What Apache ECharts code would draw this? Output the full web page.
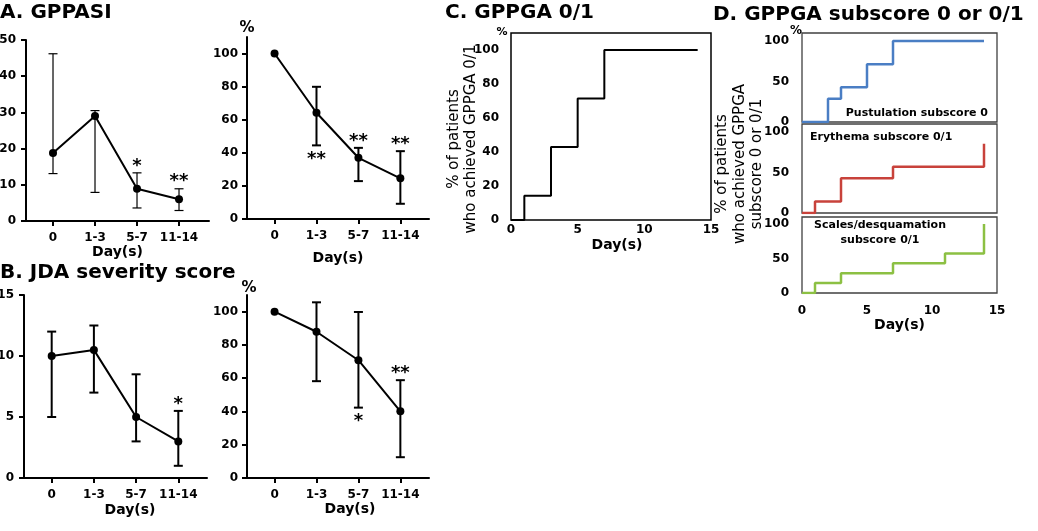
<!DOCTYPE html>
<html><head><meta charset="utf-8">
<script src="https://cdn.jsdelivr.net/npm/echarts@6/dist/echarts.min.js"></script>
<style>html,body{margin:0;padding:0;background:#fff}#c{width:1038px;height:531px}</style>
</head><body><div id="c"></div>
<script>
// ---------- data ----------
const dayGroups = ['0', '1-3', '5-7', '11-14'];

// A. GPPASI score (median, range)
const gppasiMean = [18.8, 29.0, 8.9, 6.0];
const gppasiLow  = [13.1, 7.9, 3.6, 2.9];
const gppasiHigh = [46.2, 30.5, 13.3, 8.9];
const gppasiSig  = ['', '', '*', '**'];
const gppasiSide = ['', '', 'above', 'above'];

// A. GPPASI % of baseline
const gppasiPct     = [100, 64.2, 37.0, 24.6];
const gppasiPctLow  = [null, 44.5, 22.9, 9.2];
const gppasiPctHigh = [null, 79.9, 43.0, 41.0];
const gppasiPctSig  = ['', '**', '**', '**'];
const gppasiPctSide = ['', 'below', 'above', 'above'];

// B. JDA severity score
const jdaMean = [10.0, 10.5, 5.0, 3.0];
const jdaLow  = [5.0, 7.0, 3.0, 1.0];
const jdaHigh = [12.0, 12.5, 8.5, 5.5];
const jdaSig  = ['', '', '', '*'];
const jdaSide = ['', '', '', 'above'];

// B. JDA % of baseline
const jdaPct     = [100, 87.9, 70.8, 40.1];
const jdaPctLow  = [null, 58.2, 42.3, 12.5];
const jdaPctHigh = [null, 105.6, 99.8, 58.8];
const jdaPctSig  = ['', '', '*', '**'];
const jdaPctSide = ['', '', 'below', 'above'];

// C. GPPGA 0/1 (cumulative %)
const gppgaDays = [0, 1, 3, 5, 7, 14];
const gppgaPct  = [0, 14.3, 42.9, 71.4, 100, 100];

// D. subscores
const pustDays  = [0, 2, 3, 5, 7, 14];
const pustPct   = [0, 28.6, 42.9, 71.4, 100, 100];
const eryDays   = [0, 1, 3, 7, 14];
const eryPct    = [0, 14.3, 42.9, 57.1, 85.7];
const scaleDays = [0, 1, 3, 7, 11, 14];
const scalePct  = [0, 14.3, 28.6, 42.9, 57.1, 100];

const pctTicks = [0, 20, 40, 60, 80, 100];
const subTicks = [0, 50, 100];

// ---------- helpers ----------
const FF = '"DejaVu Sans", Verdana, sans-serif';
const lbl = (extra) => Object.assign({color: '#000', fontFamily: FF, fontWeight: 'bold', fontSize: 12}, extra || {});
const catIdx = dayGroups.map((_, i) => i);

function catXAxis(gi, min, max, gap, pad) {
  return {
    type: 'value', gridIndex: gi, min: min, max: max,
    axisLine: {onZero: false, lineStyle: {color: '#000', width: 2}},
    axisTick: {customValues: catIdx, length: 5, lineStyle: {color: '#000', width: 2}},
    axisLabel: lbl({customValues: catIdx, formatter: v => dayGroups[Math.round(v)], margin: 11}),
    splitLine: {show: false},
    name: 'Day(s)', nameLocation: 'middle', nameGap: gap,
    nameTextStyle: {color: '#000', fontFamily: FF, fontWeight: 'bold', fontSize: 14, padding: pad || 0}
  };
}
function valYAxis(gi, max, interval, ticks) {
  const ax = {
    type: 'value', gridIndex: gi, min: 0, max: max,
    axisLine: {show: true, onZero: false, lineStyle: {color: '#000', width: 2}},
    axisTick: {show: true, length: 5, lineStyle: {color: '#000', width: 2}},
    axisLabel: lbl({margin: 10}),
    splitLine: {show: false}
  };
  if (ticks) { ax.axisTick.customValues = ticks; ax.axisLabel.customValues = ticks; }
  else ax.interval = interval;
  return ax;
}
function errRender(lw, cap) {
  return function (params, api) {
    const x = api.value(0);
    const a = api.coord([x, api.value(1)]);
    const b = api.coord([x, api.value(2)]);
    const st = {stroke: '#000', lineWidth: lw};
    return {type: 'group', children: [
      {type: 'line', shape: {x1: a[0], y1: a[1], x2: b[0], y2: b[1]}, style: st},
      {type: 'line', shape: {x1: a[0] - cap, y1: a[1], x2: a[0] + cap, y2: a[1]}, style: st},
      {type: 'line', shape: {x1: b[0] - cap, y1: b[1], x2: b[0] + cap, y2: b[1]}, style: st}
    ]};
  };
}
function panelSeries(gi, mean, low, high, sig, side, lw) {
  const sigItems = catIdx.filter(i => sig[i]).map(i => ({i: i, text: sig[i], side: side[i], v: side[i] === 'above' ? high[i] : low[i]}));
  return [
    {type: 'custom', xAxisIndex: gi, yAxisIndex: gi, silent: true, z: 2,
     data: catIdx.filter(i => low[i] != null).map(i => [i, low[i], high[i]]),
     renderItem: errRender(lw, 4.5)},
    {type: 'line', xAxisIndex: gi, yAxisIndex: gi, z: 3, silent: true,
     data: catIdx.map(i => [i, mean[i]]), symbol: 'circle', symbolSize: 8,
     lineStyle: {color: '#000', width: 2}, itemStyle: {color: '#000'}},
    {type: 'custom', xAxisIndex: gi, yAxisIndex: gi, silent: true, z: 4,
     data: sigItems.map(s => [s.i, s.v]),
     renderItem: function (p, api) {
       const s = sigItems[p.dataIndex];
       const pt = api.coord([api.value(0), api.value(1)]);
       return {type: 'text', x: pt[0], y: pt[1] + (s.side === 'above' ? -7 : 14),
         style: {text: s.text, fill: '#000', fontFamily: FF, fontWeight: 'bold', fontSize: 18, align: 'center', verticalAlign: 'middle'}};
     }}
  ];
}
function stepSeries(gi, days, pct, color, w) {
  return {type: 'line', xAxisIndex: gi, yAxisIndex: gi, step: 'end', symbol: 'none', silent: true,
    data: days.map((d, i) => [d, pct[i]]), lineStyle: {color: color, width: w}};
}
function boxXAxis(gi, show) {
  return {type: 'value', gridIndex: gi, min: 0, max: 15, interval: 5,
    axisLine: {show: false, onZero: false}, axisTick: {show: false}, splitLine: {show: false},
    axisLabel: lbl({show: show, margin: 12})};
}
function boxYAxis(gi, ticks, margin) {
  return {type: 'value', gridIndex: gi, min: 0, max: 110,
    axisLine: {show: false, onZero: false}, axisTick: {show: false, customValues: ticks}, splitLine: {show: false},
    axisLabel: lbl({customValues: ticks, margin: margin})};
}

const gridBase = {outerBoundsMode: 'none', containLabel: false};
const g = (o) => Object.assign({}, gridBase, o);

const xA1 = catXAxis(0, -0.643, 3.714, 24);
const xA2 = catXAxis(1, -0.657, 3.683, 32);
const xB1 = catXAxis(2, -0.656, 3.68, 25, [0, 0, 0, 29]);
const xB2 = catXAxis(3, -0.657, 3.683, 22, [0, 0, 0, 24]);
const xC = boxXAxis(4, true);
xC.axisLabel.margin = 4;
Object.assign(xC, {name: 'Day(s)', nameLocation: 'middle', nameGap: 18,
  nameTextStyle: {color: '#000', fontFamily: FF, fontWeight: 'bold', fontSize: 14, padding: [0, 0, 0, 12]}});
const xD3 = boxXAxis(7, true);
Object.assign(xD3, {name: 'Day(s)', nameLocation: 'middle', nameGap: 24,
  nameTextStyle: {color: '#000', fontFamily: FF, fontWeight: 'bold', fontSize: 14}});

const yA1 = valYAxis(0, 50, 10);
const yA2 = valYAxis(1, 110, null, pctTicks); yA2.axisLabel.margin = 9;
const yB1 = valYAxis(2, 15, 5);
const yB2 = valYAxis(3, 110, null, pctTicks); yB2.axisLabel.margin = 9;

const titleStyle = {color: '#000', fontFamily: FF, fontWeight: 'bold', fontSize: 20};
const txt = (x, y, text, size, extra) => ({type: 'text', x: x, y: y, silent: true,
  style: Object.assign({text: text, fill: '#000', fontFamily: FF, fontWeight: 'bold', fontSize: size, align: 'center', verticalAlign: 'middle'}, extra || {})});

const option = {
  backgroundColor: '#fff',
  animation: false,
  title: [
    {text: 'A. GPPASI', left: 0, top: 3, padding: 0, textStyle: titleStyle},
    {text: 'B. JDA severity score', left: 0, top: 263, padding: 0, textStyle: titleStyle},
    {text: 'C. GPPGA 0/1', left: 445, top: 3, padding: 0, textStyle: titleStyle},
    {text: 'D. GPPGA subscore 0 or 0/1', left: 713, top: 5, padding: 0, textStyle: titleStyle}
  ],
  grid: [
    g({left: 26, top: 40, width: 183, height: 181}),
    g({left: 247, top: 37, width: 182, height: 182}),
    g({left: 24, top: 295, width: 183, height: 183}),
    g({left: 247, top: 295, width: 182, height: 183}),
    g({left: 511, top: 33, width: 200, height: 187, show: true, borderColor: '#000', borderWidth: 1.5, backgroundColor: 'transparent'}),
    g({left: 802, top: 33, width: 195, height: 89, show: true, borderColor: '#404040', borderWidth: 1.3, backgroundColor: 'transparent'}),
    g({left: 802, top: 124, width: 195, height: 89, show: true, borderColor: '#404040', borderWidth: 1.3, backgroundColor: 'transparent'}),
    g({left: 802, top: 217, width: 195, height: 76, show: true, borderColor: '#404040', borderWidth: 1.3, backgroundColor: 'transparent'})
  ],
  xAxis: [xA1, xA2, xB1, xB2, xC, boxXAxis(5, false), boxXAxis(6, false), xD3],
  yAxis: [yA1, yA2, yB1, yB2,
    boxYAxis(4, pctTicks, 12),
    boxYAxis(5, subTicks, 13), boxYAxis(6, subTicks, 13), boxYAxis(7, subTicks, 13)],
  series: [].concat(
    panelSeries(0, gppasiMean, gppasiLow, gppasiHigh, gppasiSig, gppasiSide, 1.2),
    panelSeries(1, gppasiPct, gppasiPctLow, gppasiPctHigh, gppasiPctSig, gppasiPctSide, 2),
    panelSeries(2, jdaMean, jdaLow, jdaHigh, jdaSig, jdaSide, 2),
    panelSeries(3, jdaPct, jdaPctLow, jdaPctHigh, jdaPctSig, jdaPctSide, 2),
    [stepSeries(4, gppgaDays, gppgaPct, '#000', 2),
     stepSeries(5, pustDays, pustPct, '#4a7ec4', 2.5),
     stepSeries(6, eryDays, eryPct, '#c8423b', 2.5),
     stepSeries(7, scaleDays, scalePct, '#8cc043', 2.5)]
  ),
  graphic: [
    txt(247, 28, '%', 15),
    txt(249, 288, '%', 15),
    txt(502, 32, '%', 11),
    txt(796, 31, '%', 12),
    {type: 'text', x: 463, y: 139, rotation: Math.PI / 2, silent: true,
     style: {text: '% of patients\nwho achieved GPPGA 0/1', fill: '#000', fontFamily: FF, fontSize: 15, lineHeight: 17, align: 'center', verticalAlign: 'middle'}},
    {type: 'text', x: 740, y: 164, rotation: Math.PI / 2, silent: true,
     style: {text: '% of patients\nwho achieved GPPGA\nsubscore 0 or 0/1', fill: '#000', fontFamily: FF, fontSize: 15, lineHeight: 17.5, align: 'center', verticalAlign: 'middle'}},
    txt(988, 113, 'Pustulation subscore 0', 11, {align: 'right'}),
    txt(810, 137, 'Erythema subscore 0/1', 11, {align: 'left'}),
    txt(880, 233, 'Scales/desquamation\nsubscore 0/1', 11, {lineHeight: 15})
  ]
};
echarts.init(document.getElementById('c'), null, {renderer: 'canvas'}).setOption(option);
</script>
</body></html>
